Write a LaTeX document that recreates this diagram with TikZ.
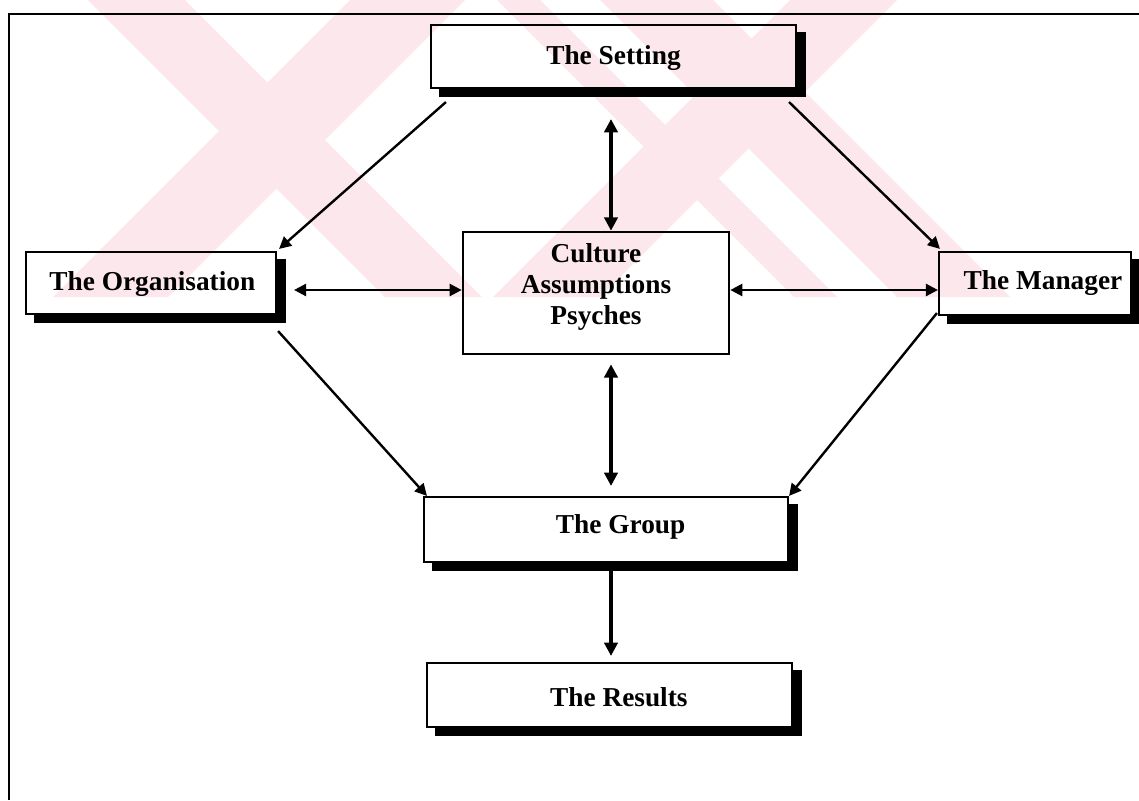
\documentclass[tikz,border=0pt]{standalone}
\usepackage{fontspec}
\setmainfont{Liberation Serif}
\usetikzlibrary{arrows.meta,fit}
\definecolor{emblem}{RGB}{252,232,236}
\begin{document}
\begin{tikzpicture}[x=0.75pt,y=-0.75pt,
  lbl/.style={font=\bfseries\fontsize{20.5}{23}\selectfont, align=center},
  box/.style={draw=black, line width=1.6pt, inner sep=0pt},
  link/.style={line width=1.8pt, -{Triangle[length=9pt,width=9pt]}},
  both/.style={line width=1.8pt, {Triangle[length=9pt,width=9pt]}-{Triangle[length=9pt,width=9pt]}},
  vboth/.style={line width=2.4pt, {Triangle[length=10pt,width=10pt]}-{Triangle[length=10pt,width=10pt]}},
  vlink/.style={line width=2.4pt, -{Triangle[length=10pt,width=10pt]}},
]
\useasboundingbox (0,0) rectangle (1139,800);
\fill[white] (0,0) rectangle (1139,800);

% faint striped emblem behind the top half
\begin{scope}
  \clip (0,0) rectangle (1139,297);
  % left cross
  \fill[emblem] (88,0) -- (185,0) -- (482,297) -- (385,297) -- cycle;
  \fill[emblem] (350,0) -- (465,0) -- (168,297) -- (53,297) -- cycle;
  % right cross
  \fill[emblem] (790,0) -- (897,0) -- (600,297) -- (493,297) -- cycle;
  \fill[emblem] (497,0) -- (540,0) -- (837,297) -- (794,297) -- cycle;
  \fill[emblem] (600,0) -- (713,0) -- (1010,297) -- (897,297) -- cycle;
\end{scope}

% outer frame (runs off the right and bottom edges)
\draw[line width=2.2pt] (9,800) -- (9,14) -- (1139,14);

% boxes, each with its caption as a centred label
\node[box, fit={(431,25) (796,88)},
      label={[lbl, name=settingtext, yshift=-1pt]center:The Setting}] (setting) {};
\node[box, fit={(26,252) (276,314)},
      label={[lbl, name=orgtext, xshift=1pt, yshift=-1pt]center:The Organisation}] (org) {};
\node[box, fit={(939,252) (1131,315)},
      label={[lbl, name=managertext, xshift=6pt]center:The Manager}] (manager) {};
\node[box, line width=2pt, fit={(463,232) (729,354)},
      label={[lbl, name=culturetext, yshift=4.5pt]center:Culture\\Assumptions\\Psyches}] (culture) {};
\node[box, fit={(424,497) (788,562)},
      label={[lbl, name=grouptext, xshift=11pt, yshift=2pt]center:The Group}] (group) {};
\node[box, fit={(427,663) (792,727)},
      label={[lbl, name=resultstext, xshift=7pt, yshift=-2pt]center:The Results}] (results) {};

% solid offset shadows along the bottom and right sides
\foreach \n in {setting,org,manager,group,results}{
  \fill ([shift={(9,0)}]\n.south west) rectangle ([shift={(9,8)}]\n.south east);
  \fill ([shift={(0,8)}]\n.north east) rectangle ([shift={(9,8)}]\n.south east);
}

% connectors
\draw[link] ([shift={(16,13)}]setting.south west) -- ([shift={(2,-2)}]org.north east);
\draw[link] ([shift={(-8,13)}]setting.south east) -- ([shift={(2,-2)}]manager.north west);
\draw[vboth] ([shift={(-2.5,30)}]setting.south) -- ([shift={(15,0)}]culture.north);
\draw[both] ([shift={(17,7)}]org.east) -- ([shift={(0,-3)}]culture.west);
\draw[both] ([shift={(0,-3)}]culture.east) -- ([shift={(0,6.5)}]manager.west);
\draw[vboth] ([shift={(15,9)}]culture.south) -- ([shift={(5,-10)}]group.north);
\draw[link] ([shift={(1,16)}]org.south east) -- ([shift={(4,0)}]group.north west);
\draw[link] ([shift={(-1,-3)}]manager.south west) -- (group.north east);
\draw[vlink] ([shift={(5,7)}]group.south) -- ([shift={(1.5,-6)}]results.north);
\end{tikzpicture}
\end{document}
